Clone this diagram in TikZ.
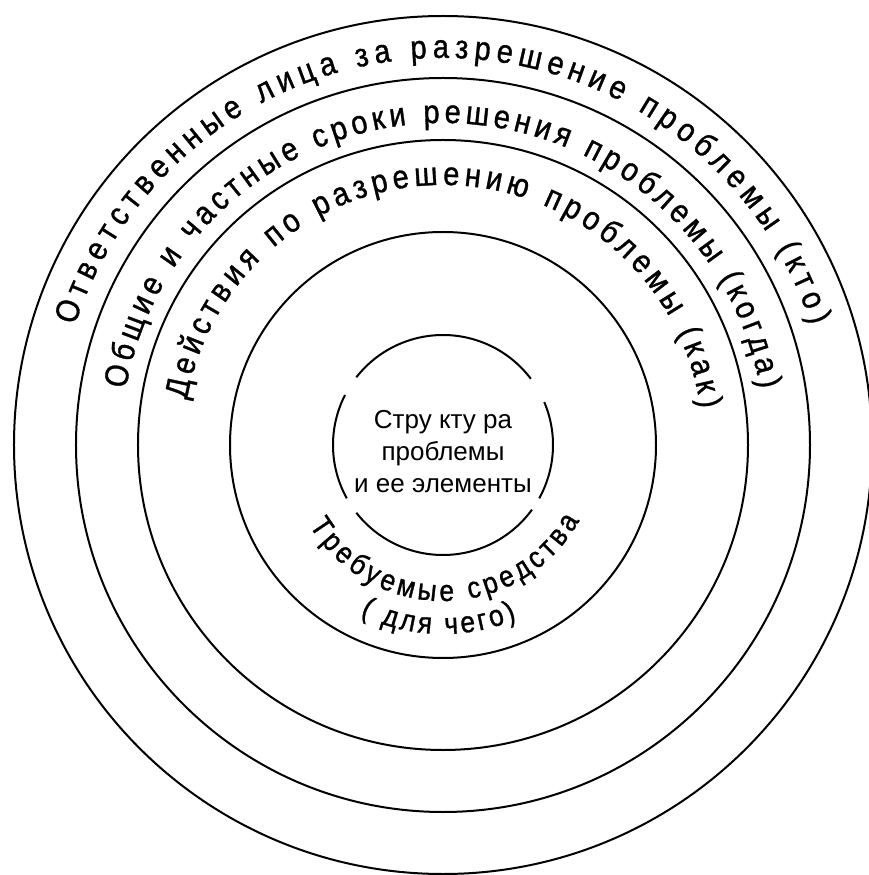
\documentclass[tikz,border=0pt]{standalone}
\usepackage{fontspec}
\usetikzlibrary{decorations.text}
\setmainfont{Liberation Sans}
\newfontfamily\ringfont[FakeStretch=0.88, FakeBold=1]{Liberation Sans}
\newcommand\ringsize{\ringfont\fontsize{33}{40}\selectfont}
\newcommand\meanssize{\ringfont\fontsize{30}{36}\selectfont}

\tikzset{
	ring/.style={line width=2pt},
	ringtext/.style={decorate, decoration={text along path, text align=fit to path, text={#1}}}
}

\begin{document}
\begin{tikzpicture}[x=1pt, y=1pt]
	\useasboundingbox (-443,-430) rectangle (425,445);
	\fill[white] (-443,-430) rectangle (425,445);
	\coordinate (O) at (0,0);
	
	\draw[ring] (O) circle[radius=429];
	\draw[ring] (O) circle[radius=367];
	\draw[ring] (O) circle[radius=305];
	\draw[ring] (O) circle[radius=213];
	
	\draw[ring] (37:110) arc[start angle=37, end angle=142, radius=110];
	\draw[ring] (153:110) arc[start angle=153, end angle=209, radius=110];
	\draw[ring] (218:110) arc[start angle=218, end angle=324, radius=110];
	\draw[ring] (331:110) arc[start angle=331, end angle=383, radius=110];
	
	\path[ringtext={|\ringsize|Ответственные лица за разрешение проблемы (кто)}]
		(162:387) arc[start angle=162, end angle=18, radius=387];
	\path[ringtext={|\ringsize|Общие и частные сроки решения проблемы (когда)}]
		(170:322) arc[start angle=170, end angle=10, radius=322];
	\path[ringtext={|\ringsize|Действия по разрешению проблемы (как)}]
		(170:260) arc[start angle=170, end angle=8, radius=260];
	\path[ringtext={|\meanssize|Требуемые средства}]
		(211:156) arc[start angle=211, end angle=331, radius=156];
	\path[ringtext={|\meanssize|( для чего)}]
		(244:189) arc[start angle=244, end angle=293, radius=189];
	
	\node[font=\fontsize{26}{32}\selectfont, align=center] (core) at (0,-7) {Стру кту ра\\проблемы\\и ее элементы};
\end{tikzpicture}
\end{document}
